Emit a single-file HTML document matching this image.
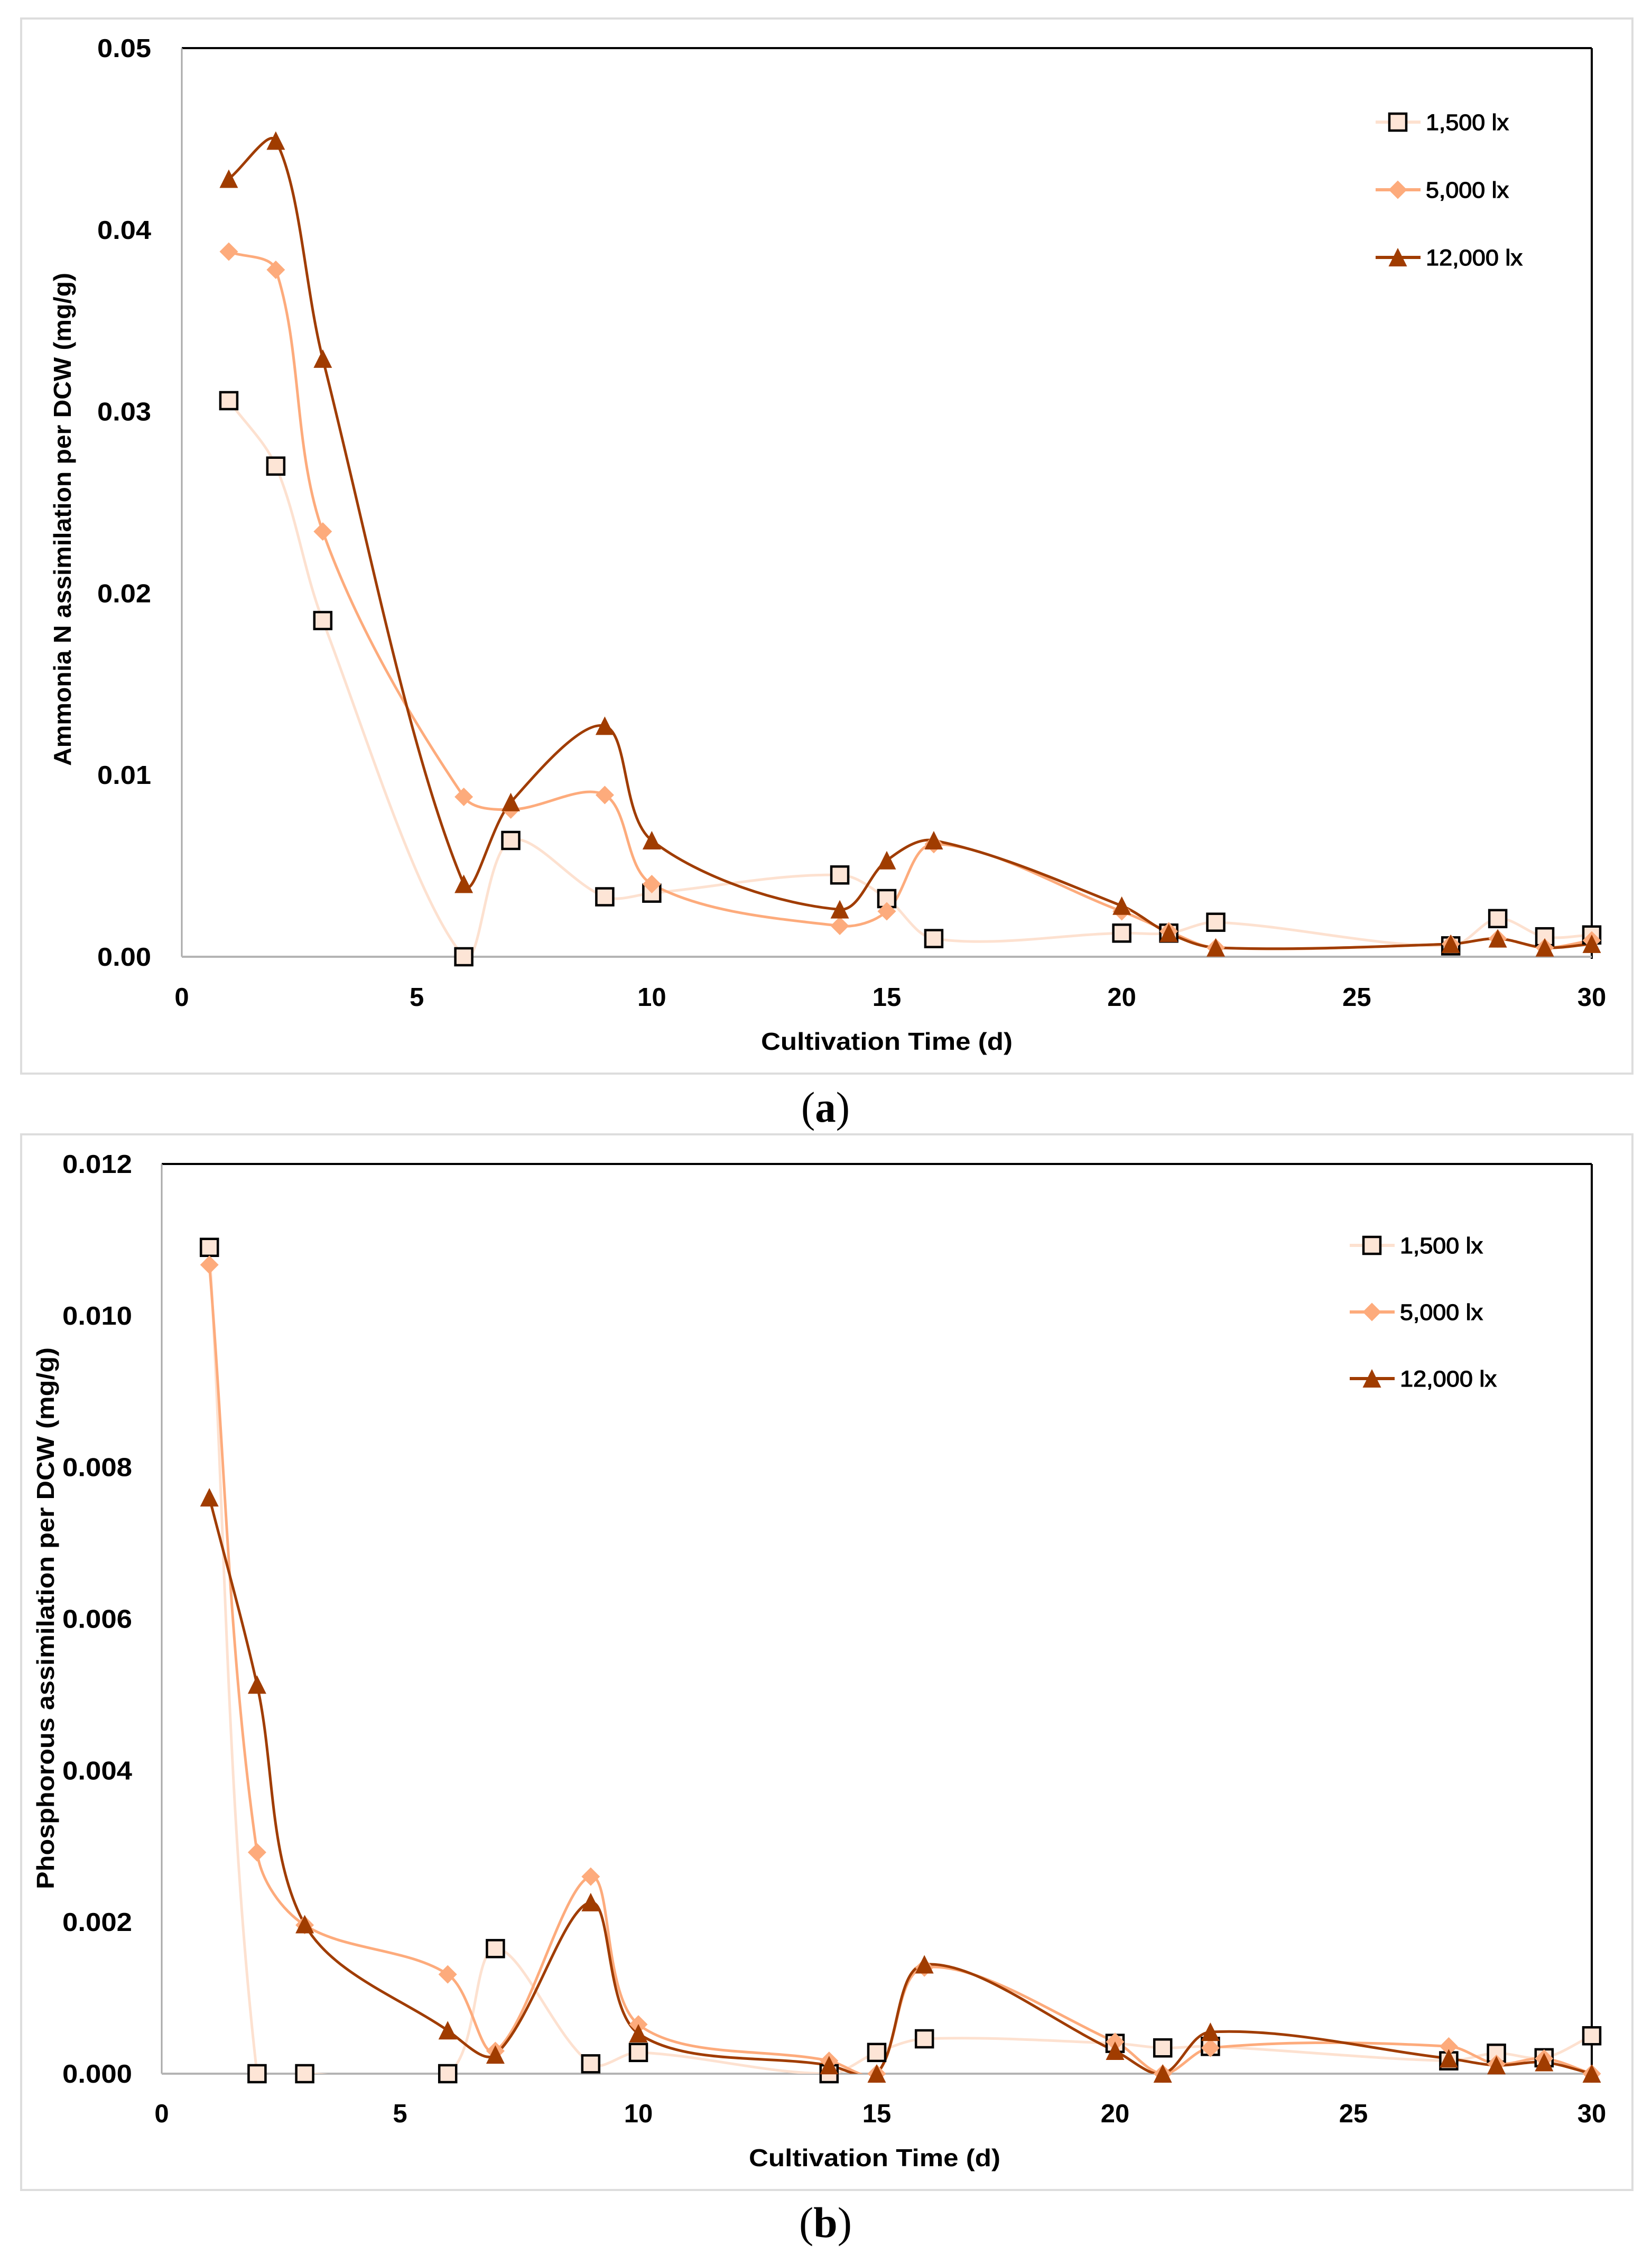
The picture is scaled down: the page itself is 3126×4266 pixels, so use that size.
<!DOCTYPE html>
<html lang="en">
<head>
<meta charset="utf-8">
<title>Ammonia N and phosphorous assimilation per DCW</title>
<style>
html,body{margin:0;padding:0;background:#fff;}
svg{display:block;}
text{font-family:"Liberation Sans",sans-serif;fill:#000;}
.tick{font-weight:700;font-size:49px;}
.title{font-weight:700;font-size:46px;}
.legend{font-size:43px;font-weight:400;stroke:#000;stroke-width:1.2px;}
.cap{font-family:"Liberation Serif",serif;font-size:82px;}
</style>
</head>
<body>
<svg id="figure" xmlns="http://www.w3.org/2000/svg" width="3126" height="4266" viewBox="0 0 3126 4266">
  <defs>
    <clipPath id="clip-a"><rect x="344" y="91" width="2700" height="1719"/></clipPath>
    <clipPath id="clip-b"><rect x="306" y="2202" width="2738" height="1721"/></clipPath>
  </defs>
  <rect x="0" y="0" width="3126" height="4266" fill="#fff"/>
  <rect x="40" y="35" width="3049" height="1996" fill="#fff" stroke="#dddddd" stroke-width="4"/>
  <rect x="40" y="2146" width="3049" height="1997" fill="#fff" stroke="#dddddd" stroke-width="4"/>
  <g id="chart-a"></g>
  <g id="chart-b"></g>
  <text class="title" transform="translate(134 1449) rotate(-90)" textLength="933" lengthAdjust="spacingAndGlyphs">Ammonia N assimilation per DCW (mg/g)</text>
  <text class="title" x="1440" y="1986" textLength="476" lengthAdjust="spacingAndGlyphs">Cultivation Time (d)</text>
  <text class="title" transform="translate(102 3574) rotate(-90)" textLength="1025" lengthAdjust="spacingAndGlyphs">Phosphorous assimilation per DCW (mg/g)</text>
  <text class="title" x="1417" y="4098" textLength="476" lengthAdjust="spacingAndGlyphs">Cultivation Time (d)</text>
  <text class="cap" x="1516" y="2122" textLength="92" lengthAdjust="spacingAndGlyphs">(<tspan font-weight="700">a</tspan>)</text>
  <text class="cap" x="1512" y="4232" textLength="100" lengthAdjust="spacingAndGlyphs">(<tspan font-weight="700">b</tspan>)</text>
</svg>
<script>
const days = [1,2,3,6,7,9,10,14,15,16,20,21,22,27,28,29,30];
const xTickLabels = [0,5,10,15,20,25,30];
const yTickLabelsA = ["0.00","0.01","0.02","0.03","0.04","0.05"];
const yTickLabelsB = ["0.000","0.002","0.004","0.006","0.008","0.010","0.012"];
const legendLabels = ["1,500 lx","5,000 lx","12,000 lx"];

const ammonia1500 = [0.0306,0.0270,0.0185,0.0000,0.0064,0.0033,0.0035,0.0045,0.0032,0.0010,0.0013,0.0013,0.0019,0.0006,0.0021,0.0011,0.0012];
const ammonia5000 = [0.0388,0.0378,0.0234,0.0088,0.0081,0.0089,0.0040,0.0017,0.0025,0.0062,0.0025,0.0014,0.0005,0.0007,0.0010,0.0005,0.0009];
const ammonia12000 = [0.0428,0.0449,0.0329,0.0040,0.0085,0.0127,0.0064,0.0026,0.0053,0.0064,0.0028,0.0013,0.0005,0.0007,0.0010,0.0005,0.0007];

const phosphorus1500 = [0.0109,0,0,0,0.00165,0.00013,0.00028,0,0.00028,0.00046,0.0004,0.00034,0.00036,0.00017,0.00027,0.00021,0.0005];
const phosphorus5000 = [0.01067,0.00292,0.00196,0.00131,0.0003,0.0026,0.00065,0.00017,0,0.0014,0.00042,0,0.00034,0.00036,0.00013,0.0002,0];
const phosphorus12000 = [0.0076,0.00513,0.00197,0.00057,0.00025,0.00226,0.00053,0.00011,0,0.00144,0.0003,0,0.00055,0.0002,0.00011,0.00015,0];

const NS = 'http://www.w3.org/2000/svg';
const seriesColors = ['#fde1d0','#fdab7c','#a03c00'];
const lineWidths = [5,5,5];

function make(tag, parent, attrs){
  const el = document.createElementNS(NS, tag);
  for (const k in attrs) el.setAttribute(k, attrs[k]);
  parent.appendChild(el);
  return el;
}

function smoothPath(pts){
  let d = 'M' + pts[0][0].toFixed(1) + ' ' + pts[0][1].toFixed(1);
  const dist = (a,b) => Math.hypot(a[0]-b[0], a[1]-b[1]);
  for (let i = 0; i < pts.length - 1; i++){
    const p0 = pts[Math.max(i-1,0)], p1 = pts[i], p2 = pts[i+1], p3 = pts[Math.min(i+2,pts.length-1)];
    const d01 = dist(p0,p1), d12 = dist(p1,p2), d23 = dist(p2,p3);
    const f1 = d12 / Math.max(d01 + d12, 1e-6) / 3;
    const f2 = d12 / Math.max(d12 + d23, 1e-6) / 3;
    const c1 = [p1[0] + (p2[0]-p0[0])*f1, p1[1] + (p2[1]-p0[1])*f1];
    const c2 = [p2[0] - (p3[0]-p1[0])*f2, p2[1] - (p3[1]-p1[1])*f2];
    d += 'C' + c1[0].toFixed(1) + ' ' + c1[1].toFixed(1) + ' ' + c2[0].toFixed(1) + ' ' + c2[1].toFixed(1) + ' ' + p2[0].toFixed(1) + ' ' + p2[1].toFixed(1);
  }
  return d;
}

function drawMarker(parent, kind, x, y){
  let el;
  if (kind === 0){
    el = make('rect', parent, {x:x-16, y:y-16, width:32, height:32, fill:'#fde5d6', stroke:'#000', 'stroke-width':4.5});
  } else if (kind === 1){
    el = make('polygon', parent, {points:(x-17.5)+','+y+' '+x+','+(y-17.5)+' '+(x+17.5)+','+y+' '+x+','+(y+17.5), fill:seriesColors[1]});
  } else {
    el = make('polygon', parent, {points:x+','+(y-18)+' '+(x+17.5)+','+(y+17)+' '+(x-17.5)+','+(y+17), fill:seriesColors[2]});
  }
  return el;
}

function drawChart(rootId, cfg, seriesList, yLabels){
  const root = document.getElementById(rootId);
  const xScale = v => cfg.left + (v / cfg.xMax) * (cfg.right - cfg.left);
  const yScale = v => cfg.bottom - (v / cfg.yMax) * (cfg.bottom - cfg.top);

  const topAxis = make('line', root, {x1:cfg.left, y1:cfg.top, x2:cfg.right, y2:cfg.top, stroke:'#000', 'stroke-width':4});
  
  
  const rightAxis = make('line', root, {x1:cfg.right, y1:cfg.top, x2:cfg.right, y2:cfg.bottom+4, stroke:'#000', 'stroke-width':4});
  
  
  const leftAxis = make('line', root, {x1:cfg.left, y1:cfg.top, x2:cfg.left, y2:cfg.bottom, stroke:'#a8a8a8', 'stroke-width':3});
  
  
  const bottomAxis = make('line', root, {x1:cfg.left, y1:cfg.bottom, x2:cfg.right, y2:cfg.bottom, stroke:'#b4b4b4', 'stroke-width':4});
  
  

  yLabels.forEach((lab) => {
    const t = make('text', root, {class:'tick', x:cfg.yLabelRight, y:yScale(parseFloat(lab)) + 17, 'text-anchor':'end', textLength:cfg.yLabelWidth, lengthAdjust:'spacingAndGlyphs'});
    t.textContent = lab;
    
    
  });
  xTickLabels.forEach((v) => {
    const t = make('text', root, {class:'tick', x:xScale(v), y:cfg.xLabelBase, 'text-anchor':'middle'});
    t.textContent = String(v);
    
    
  });

  seriesList.forEach((vals, s) => {
    const pts = days.map((d,i) => [xScale(d), yScale(vals[i])]);
    const path = make('path', root, {d:smoothPath(pts), fill:'none', stroke:seriesColors[s], 'stroke-width':lineWidths[s], 'stroke-linejoin':'round', 'clip-path':'url(#' + cfg.clip + ')'});
    
    
  });
  seriesList.forEach((vals, s) => {
    days.forEach((d,i) => {
      const m = drawMarker(root, s, xScale(d), yScale(vals[i]));
      
      
    });
  });

  legendLabels.forEach((lab, s) => {
    const y = cfg.legendY + s * cfg.legendStep;
    const ln = make('line', root, {x1:cfg.legendX-42, y1:y, x2:cfg.legendX+43, y2:y, stroke:seriesColors[s], 'stroke-width':6});
    
    
    const m = drawMarker(root, s, cfg.legendX, y);
    
    
    const t = make('text', root, {class:'legend', x:cfg.legendX+53, y:y+15, textLength:s === 2 ? 183 : 157, lengthAdjust:'spacingAndGlyphs'});
    t.textContent = lab;
    
    
  });
}

drawChart('chart-a', {clip:'clip-a', left:344, right:3012, top:91, bottom:1810, xMax:30, yMax:0.05, yLabelRight:286, yLabelWidth:102, xLabelBase:1903, legendX:2645, legendY:231, legendStep:128},
  [ammonia1500, ammonia5000, ammonia12000], yTickLabelsA);
drawChart('chart-b', {clip:'clip-b', left:306, right:3012, top:2202, bottom:3923, xMax:30, yMax:0.012, yLabelRight:250, yLabelWidth:132, xLabelBase:4015, legendX:2596, legendY:2356, legendStep:126},
  [phosphorus1500, phosphorus5000, phosphorus12000], yTickLabelsB);
</script>
</body>
</html>
